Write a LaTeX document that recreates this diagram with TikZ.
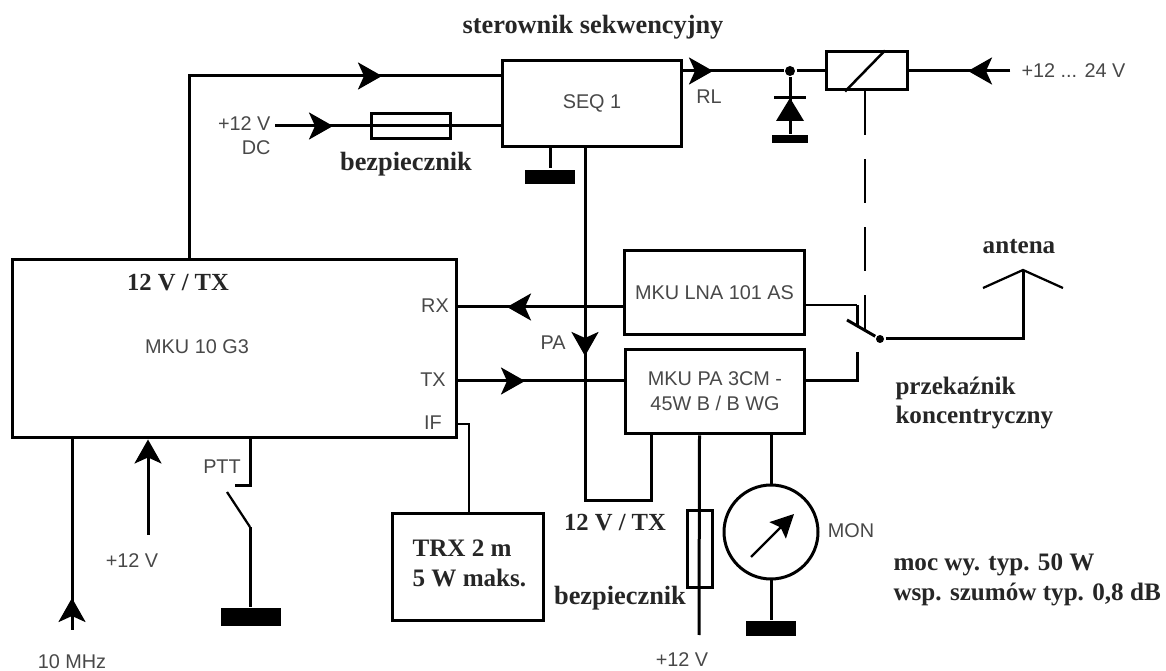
\documentclass[tikz,border=0pt]{standalone}
\usepackage{fontspec}
\setmainfont{Liberation Sans}
\newfontfamily\opisfont{Liberation Serif}
\usepackage{xcolor}
\usepackage{tikz}
\usetikzlibrary{arrows.meta,positioning}
\definecolor{szary}{HTML}{484848}
\begin{document}
\begin{tikzpicture}[
      x=0.02cm, y=-0.02cm,
      line width=0.6mm,
      box/.style={draw, line width=0.6mm, inner sep=0pt, align=center, text=szary, font=\fontsize{11.3}{14.4}\selectfont},
      fuse/.style={draw, line width=0.6mm, inner sep=0pt},
      gnd/.style={fill=black, inner sep=0pt},
      lab/.style={text=szary, inner sep=0pt, font=\fontsize{11.3}{14.4}\selectfont},
      bold/.style={inner sep=0pt, align=left, text=black!85, font=\opisfont\bfseries\fontsize{14.3}{17}\selectfont},
      dot/.style={circle, fill=black, inner sep=0pt, minimum size=2mm},
      >={Stealth[length=4.8mm,width=5.4mm,inset=1.2mm]}]
    \useasboundingbox (0,0) rectangle (1166,671);
    % bloki
    \node[box, minimum width=89mm, minimum height=35.8mm] (mku) at (234.5,348.5) {};
    \node[box, minimum width=36mm, minimum height=17.4mm] (seq) at (592,103.5) {SEQ 1};
    \node[box, minimum width=36.2mm, minimum height=17mm] (lna) at (714.5,292.5) {MKU LNA 101 AS};
    \node[box, minimum width=36mm, minimum height=17mm] (pa) at (715,391.5) {MKU PA 3CM -\\45W B / B WG};
    \node[box, minimum width=30.4mm, minimum height=21.6mm] (trx) at (468,567) {};
    \node[box, minimum width=16.2mm, minimum height=7.6mm] (rel) at (866.5,71) {};
    \node[fuse, minimum width=16mm, minimum height=5mm] (fuse1) at (411,126.5) {};
    \node[fuse, minimum width=5mm, minimum height=15.6mm] (fuse2) at (699.5,549) {};
    % masy
    \node[gnd, minimum width=10mm, minimum height=2.8mm] (gnd1) at (550,177) {};
    \node[gnd, minimum width=7.2mm, minimum height=1.6mm] (gnd2) at (790,139.5) {};
    \node[gnd, minimum width=12mm, minimum height=3.6mm] (gnd3) at (251,617) {};
    \node[gnd, minimum width=10mm, minimum height=3mm] (gnd4) at (771,628.5) {};
    \node[dot] (wez) at (790,71) {};
    \node[dot, minimum size=1.6mm] (sw) at (880,339) {};
    % punkty pomocnicze
    \coordinate (a1) at (382,76);
    \coordinate (a2) at (333,126);
    \coordinate (zas1) at (275,126);
    \coordinate (a3) at (713,71);
    \coordinate (a4) at (968,71);
    \coordinate (zas2) at (1010,71);
    \coordinate (a5) at (507,307);
    \coordinate (a6) at (525,381);
    \coordinate (a7) at (585,356);
    \coordinate (k1) at (585,501);
    \coordinate (k2) at (651,501);
    \coordinate (clk) at (72,630);
    \coordinate (a8) at (72,598);
    \coordinate (zas3) at (148,535);
    \coordinate (zas4) at (699,635);
    \coordinate (ptt1) at (250,486);
    \coordinate (ptt2) at (235,486);
    \coordinate (ptt3) at (227,492);
    \coordinate (ptt4) at (250,527);
    \coordinate (if1) at (469,424);
    \coordinate (st1) at (857,305);
    \coordinate (st2) at (857,325);
    \coordinate (st3) at (857,352);
    \coordinate (st4) at (857,381);
    \coordinate (dzw) at (847,320);
    \coordinate (ant) at (1023,270);
    \coordinate (ant1) at (983,288);
    \coordinate (ant2) at (1063,288);
    \coordinate (dio1) at (790,98);
    \coordinate (dio2) at (790,121);
    \coordinate (nar) at (189,76);
    % polaczenia gorne
    \draw (mku.north -| nar) |- (seq.west |- a1);
    \draw[->] (nar) -- (a1);
    \draw (zas1) -- (seq.west |- zas1);
    \draw[->] (zas1) -- (a2);
    \draw (seq.south -| gnd1) -- (gnd1);
    \draw (seq.east |- a3) -- (wez) -- (rel.west);
    \draw[->] (seq.east |- a3) -- (a3);
    \draw (zas2) -- (rel.east);
    \draw[->] (zas2) -- (a4);
    \draw[line width=0.5mm] (rel.south -| 845,0) -- (rel.north -| 885,0);
    % dioda
    \draw (wez) -- (gnd2);
    \draw[line width=0.6mm] (774,98) -- (806,98);
    \fill (dio1) -- (804,121) -- (776,121) -- cycle;
    % PA
    \draw (seq.south -| k1) -- (k1) -- (k2) -- (pa.south -| k2);
    \draw[->] (seq.south -| a7) -- (a7);
    % RX TX IF
    \draw (lna.west |- a5) -- (mku.east |- a5);
    \draw[->] (lna.west |- a5) -- (a5);
    \draw (pa.west |- a6) -- (mku.east |- a6);
    \draw[->] (mku.east |- a6) -- (a6);
    \draw[line width=0.45mm] (mku.east |- if1) -- (if1) -- (trx.north -| if1);
    % dol
    \draw (mku.south -| clk) -- (clk);
    \draw[->] (clk) -- (a8);
    \draw[->] (zas3) -- (mku.south -| zas3);
    \draw (mku.south -| ptt1) -- (ptt1) -- (ptt2);
    \draw[line width=0.45mm] (ptt3) -- (ptt4);
    \draw (ptt4) -- (gnd3.north -| ptt4);
    \draw (pa.south -| fuse2) -- (zas4);
    \draw (pa.south -| gnd4) -- (gnd4);
    \node[box, circle, fill=white, minimum size=18.8mm] (mon) at (771,532) {};
    \draw[line width=0.45mm, -{Stealth[length=4.6mm,width=4.6mm,inset=0.8mm]}] (751,557) -- (794,514);
    % przekaznik
    \draw[dash pattern=on 8.8mm off 4.8mm, line width=0.5mm] (rel.south -| 865,0) -- (865,330);
    \draw[line width=0.45mm] (lna.east |- st1) -- (st1);
    \draw (st1) -- (st2);
    \draw (dzw) -- (sw);
    \draw (st3) -- (st4) -- (pa.east |- st4);
    \draw (sw) -| (ant);
    \draw[line width=0.45mm] (ant1) -- (ant) -- (ant2);
    % opisy
    \node[lab] (t1) at (197,347) {MKU 10 G3};
    \node[lab] (t2) at (435,306) {RX};
    \node[lab] (t3) at (433,380) {TX};
    \node[lab] (t4) at (433,423) {IF};
    \node[lab] (t5) at (553,343) {PA};
    \node[lab] (t6) at (709,97) {RL};
    \node[lab, anchor=west] (t7) at (1020,71) {+12 ... 24 V};
    \node[lab, anchor=east] (t8) at (272,124) {+12 V};
    \node[lab, anchor=east] (t9) at (272,148) {DC};
    \node[lab] (t10) at (222,467) {PTT};
    \node[lab] (t11) at (132,561) {+12 V};
    \node[lab] (t12) at (72,662) {10 MHz};
    \node[lab] (t13) at (682,660) {+12 V};
    \node[lab] (t14) at (851,531) {MON};
    \node[bold, font=\opisfont\bfseries\fontsize{15}{17}\selectfont] (b1) at (593,27) {sterownik sekwencyjny};
    \node[bold, font=\opisfont\bfseries\fontsize{15}{17}\selectfont] (b2) at (406,164) {bezpiecznik};
    \node[bold, font=\opisfont\bfseries\fontsize{14}{17}\selectfont] (b3) at (178,283) {12 V / TX};
    \node[bold, font=\opisfont\bfseries\fontsize{14}{17}\selectfont] (b4) at (615,523) {12 V / TX};
    \node[bold, font=\opisfont\bfseries\fontsize{15}{17}\selectfont] (b5) at (620,598) {bezpiecznik};
    \node[bold] (b6) at (1019,247) {antena};
    \node[bold, anchor=west] (b7) at (894,403) {przekaźnik\\koncentryczny};
    \node[bold, anchor=west] (b8) at (892,580) {moc wy. typ. 50 W\\wsp. szumów typ. 0,8 dB};
    \node[bold, anchor=west] (b9) at (411,563) {TRX 2 m\\5 W maks.};
  \end{tikzpicture}
\end{document}
